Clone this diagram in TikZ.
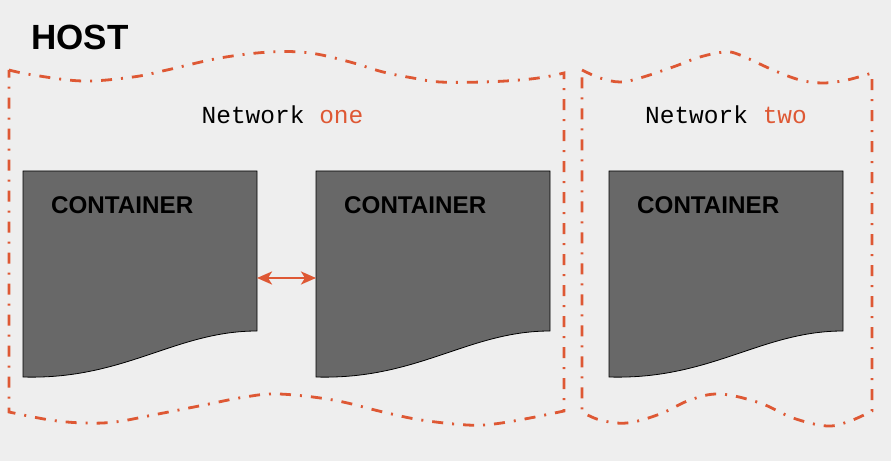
\documentclass[tikz,border=0pt]{standalone}
\usepackage{fontspec}
\setmainfont{Liberation Sans}
\setmonofont{Liberation Mono}
\usetikzlibrary{arrows.meta}
\definecolor{bg}{HTML}{EEEEEE}
\definecolor{netorange}{HTML}{DE5834}
\definecolor{boxgray}{HTML}{686868}
\begin{document}
\begin{tikzpicture}[x=1bp,y=-1bp,
  netline/.style={draw=netorange, line width=2.8bp, dash pattern=on 11bp off 9bp on 2bp off 9bp},
  contshape/.style={fill=boxgray, draw=black, line width=0.8bp},
  contlabel/.style={font=\bfseries\fontsize{24.2bp}{29bp}\selectfont, inner sep=0pt, anchor=west},
  netlabel/.style={font=\ttfamily\fontsize{24.5bp}{29bp}\selectfont, inner sep=0pt},
  hostlabel/.style={font=\bfseries\fontsize{35bp}{41bp}\selectfont, inner sep=0pt, anchor=west},
  link/.style={draw=netorange, line width=2.6bp, {Stealth[length=15bp,width=13bp,inset=4bp]}-{Stealth[length=15bp,width=13bp,inset=4bp]}},
  containerpic/.pic={
    \path[contshape] (0,0) -- (234,0) -- (234,160) .. controls (152,160) and (102,209) .. (0,206) -- cycle;
    \node[contlabel] (-label) at (28,34) {CONTAINER};
    \coordinate (-east) at (234,107);
    \coordinate (-west) at (0,107);
  }]
\path[use as bounding box, fill=bg] (0,0) rectangle (891,461);

% Network one boundary
\draw[netline] plot[smooth, tension=0.6] coordinates {(9,70) (33,75) (83,81) (133,77) (167,70) (220,58) (270,52) (310,53) (350,62) (383,72) (413,78) (440,82) (483,82) (520,80) (545,77) (564,73)}
  -- (564,411)
  -- plot[smooth, tension=0.6] coordinates {(564,411) (530,418) (494,424) (467,425) (421,420) (383,412) (333,400) (279,394) (245,397) (199,406) (153,415) (115,422) (84,423) (50,420) (9,412)}
  -- cycle;

% Network two boundary
\draw[netline] plot[smooth, tension=0.6] coordinates {(582,70) (600,78) (620,82) (640,78) (673,67) (700,57) (725,52) (740,55) (773,70) (800,80) (823,83) (847,80) (872,73)}
  -- (872,411)
  -- plot[smooth, tension=0.6] coordinates {(872,411) (850,421) (827,426) (793,418) (760,403) (720,394) (690,400) (660,414) (627,423) (600,420) (582,412)}
  -- cycle;

% Containers
\pic (c1) at (23,171) {containerpic};
\pic (c2) at (316,171) {containerpic};
\pic (c3) at (609,171) {containerpic};

% Link
\draw[link] (c1-east) -- (c2-west);

% Labels
\node[hostlabel] (host) at (31,37.5) {HOST};
\node[netlabel] (net1) at (282.5,115) {Network \textcolor{netorange}{one}};
\node[netlabel] (net2) at (726,115) {Network \textcolor{netorange}{two}};
\end{tikzpicture}
\end{document}
